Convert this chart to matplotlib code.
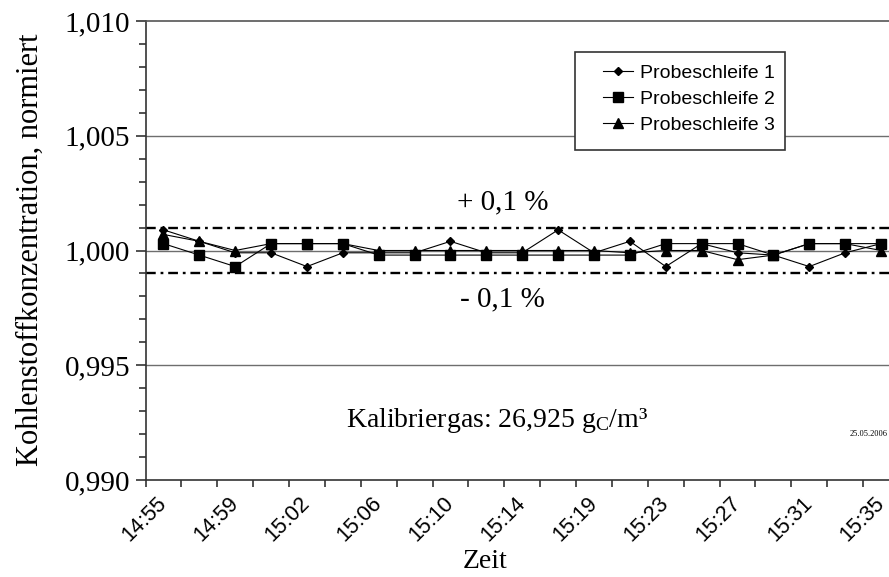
import numpy as np
import matplotlib
matplotlib.use("Agg")
import matplotlib.pyplot as plt
from matplotlib.patches import Rectangle
from matplotlib.ticker import MultipleLocator, FixedLocator, NullFormatter

plt.rcParams['mathtext.fontset'] = 'custom'
plt.rcParams['mathtext.rm'] = 'Liberation Serif'
plt.rcParams['mathtext.it'] = 'Liberation Serif:italic'
plt.rcParams['lines.scale_dashes'] = False

# Messzeitpunkte (Kategorien)
zeiten = ["14:55", "14:57", "14:59", "15:01", "15:02", "15:04", "15:06", "15:08",
          "15:10", "15:12", "15:14", "15:17", "15:19", "15:21", "15:23", "15:25",
          "15:27", "15:29", "15:31", "15:33", "15:35"]

# normierte Kohlenstoffkonzentration je Probeschleife
probe1 = [1.0009, 1.0004, 0.9999, 0.9999, 0.9993, 0.9999, 0.9999, 0.9999, 1.0004, 0.9999,
          0.9999, 1.0009, 0.9999, 1.0004, 0.9993, 1.0003, 0.9999, 0.9998, 0.9993, 0.9999, 1.0003]
probe2 = [1.0003, 0.9998, 0.9993, 1.0003, 1.0003, 1.0003, 0.9998, 0.9998, 0.9998, 0.9998,
          0.9998, 0.9998, 0.9998, 0.9998, 1.0003, 1.0003, 1.0003, 0.9998, 1.0003, 1.0003, 1.0003]
probe3 = [1.0007, 1.0004, 1.0000, 1.0003, 1.0003, 1.0003, 1.0000, 1.0000, 1.0000, 1.0000,
          1.0000, 1.0000, 1.0000, 0.9999, 1.0000, 1.0000, 0.9996, 0.9998, 1.0003, 1.0003, 1.0000]

grenze_oben = 1.001
grenze_unten = 0.999

W, H = 889, 577
fig = plt.figure(figsize=(W / 100, H / 100), dpi=100)
ax = fig.add_axes([145.5 / W, 97 / H, 753.5 / W, 459 / H])

x = np.arange(len(zeiten))

# horizontale Gitterlinien
for g in (0.995, 1.000, 1.005):
    ax.axhline(g, color='#6e6e6e', lw=1.0, zorder=1)

# Toleranzband +/- 0,1 %
dd = (0, (7, 3.5, 2, 3.5))
ax.axhline(grenze_oben, color='black', lw=1.7, linestyle=dd, zorder=2)
ax.axhline(grenze_unten, color='black', lw=1.7, linestyle=dd, zorder=2)

ax.plot(x, probe1, color='black', lw=0.8, marker='D', ms=4.4, label='Probeschleife 1', zorder=3)
ax.plot(x, probe2, color='black', lw=0.8, marker='s', ms=6.5, label='Probeschleife 2', zorder=3)
ax.plot(x, probe3, color='black', lw=0.8, marker='^', ms=6.8, label='Probeschleife 3', zorder=3)

ax.set_xlim(-0.5, len(zeiten) - 0.5)
ax.set_ylim(0.990, 1.010)

ax.spines['right'].set_visible(False)
ax.spines['top'].set_color('#555555')
ax.spines['left'].set_color('#333333')
ax.spines['bottom'].set_color('#333333')
for s in ('left', 'bottom', 'top'):
    ax.spines[s].set_linewidth(1.2)

# y-Achse
ax.yaxis.set_minor_locator(MultipleLocator(0.001))
ax.set_yticks([0.990, 0.995, 1.000, 1.005, 1.010])
ax.set_yticklabels(["0,990", "0,995", "1,000", "1,005", "1,010"],
                   fontfamily='Liberation Serif', fontsize=21)
ax.tick_params(axis='y', which='major', direction='out', length=7, width=1.2,
               color='#333333', pad=4)
ax.tick_params(axis='y', which='minor', direction='out', length=5, width=1.2, color='#333333')

# x-Achse: Teilstriche an den Kategoriegrenzen, Beschriftung jede zweite Kategorie
ax.xaxis.set_major_locator(FixedLocator(np.arange(-0.5, len(zeiten), 1.0)))
ax.xaxis.set_major_formatter(NullFormatter())
ax.tick_params(axis='x', which='major', direction='out', length=5, width=1.2, color='#333333')
trans = ax.get_xaxis_transform()
for i in range(0, len(zeiten), 2):
    ax.text(i, -0.044, zeiten[i], transform=trans, rotation=45, rotation_mode='anchor',
            ha='right', va='center', fontfamily='Liberation Sans', fontsize=15.5)

fig.text(485 / W, 1 - 561 / H, "Zeit", ha='center', va='center',
         fontfamily='Liberation Serif', fontsize=20)
fig.text(30 / W, 1 - 250 / H, "Kohlenstoffkonzentration, normiert", rotation=90,
         ha='center', va='center', fontfamily='Liberation Serif', fontsize=22)

# Beschriftungen im Diagramm
ax.text(9.45, 1.0021, "+ 0,1 %", ha='center', va='center',
        fontfamily='Liberation Serif', fontsize=21)
ax.text(9.45, 0.9990 - 0.00115, "- 0,1 %", ha='center', va='center',
        fontfamily='Liberation Serif', fontsize=21)
ax.text(9.3, 0.9926, "Kalibriergas: 26,925 g$_\\mathrm{C}$/m³", ha='center', va='center',
        fontfamily='Liberation Serif', fontsize=20)
fig.text(850 / W, 1 - 434 / H, "25.05.2006", ha='left', va='center',
         fontfamily='Liberation Serif', fontsize=6)

# Legende: weisser Kasten mit Rahmen, Eintraege darueber
ax.add_patch(Rectangle((575 / W, 1 - 150 / H), 210 / W, 98 / H, transform=fig.transFigure,
                       facecolor='white', edgecolor='#333333', lw=1.2, zorder=4,
                       clip_on=False))
leg = ax.legend(loc='upper left', bbox_to_anchor=(603 / W, 1 - 64 / H),
                bbox_transform=fig.transFigure, prop={'family': 'Liberation Sans', 'size': 14},
                frameon=False, handlelength=1.55, handletextpad=0.36, labelspacing=0.43,
                borderpad=0, borderaxespad=0)
leg.set_zorder(5)

fig.savefig("out.png", dpi=100)
